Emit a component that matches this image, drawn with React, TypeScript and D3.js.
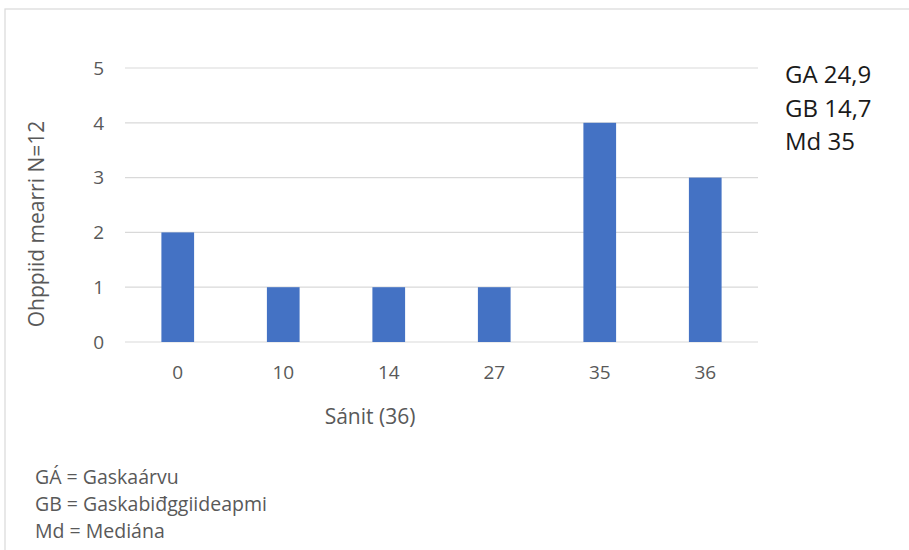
import React from "react";
import * as d3 from "d3";

const categories = ["0", "10", "14", "27", "35", "36"];
const counts = [2, 1, 1, 1, 4, 3];
const yTicks = [0, 1, 2, 3, 4, 5];
const statsLines = ["GA 24,9", "GB 14,7", "Md 35"];
const footnotes = ["GÁ = Gaskaárvu", "GB = Gaskabiđggiideapmi", "Md = Mediána"];
const xTitle = "Sánit (36)";
const yTitle = "Ohppiid mearri N=12";

const W = 909;
const H = 550;
const FONT = "'Open Sans', 'Noto Sans', sans-serif";

export default function App() {
  const plotLeft = 125;
  const plotRight = 758;
  const plotTop = 68;
  const plotBottom = 342;

  const x = d3.scaleBand<string>().domain(categories).range([plotLeft, plotRight]).paddingInner(0.69).paddingOuter(0.345);
  const y = d3.scaleLinear().domain([0, 5]).range([plotBottom, plotTop]);

  const textColor = "#595959";

  return (
    <svg width={W} height={H} style={{ position: "absolute", left: 0, top: 0, background: "#fff" }} fontFamily={FONT}>
      <rect x={0} y={0} width={W} height={H} fill="#ffffff" />
      <rect x={5} y={9} width={W + 20} height={H + 20} fill="#ffffff" stroke="#d9d9d9" strokeWidth={1.2} />
      {yTicks.map((t) => (
        <g key={t}>
          <line x1={plotLeft} x2={plotRight} y1={y(t)} y2={y(t)} stroke="#d9d9d9" strokeWidth={1.2} />
          <text x={104} y={y(t)} dy="0.36em" textAnchor="end" fontSize={19} fill={textColor}>
            {t}
          </text>
        </g>
      ))}
      {categories.map((c, i) => (
        <rect key={c} x={x(c)} y={y(counts[i])} width={x.bandwidth()} height={y(0) - y(counts[i])} fill="#4472C4" />
      ))}
      {categories.map((c) => (
        <text key={c} x={(x(c) as number) + x.bandwidth() / 2} y={379} textAnchor="middle" fontSize={19} fill={textColor}>
          {c}
        </text>
      ))}
      <text x={370} y={424} textAnchor="middle" fontSize={21} fill={textColor}>
        {xTitle}
      </text>
      <text transform="translate(44,224) rotate(-90)" textAnchor="middle" fontSize={21} fill={textColor}>
        {yTitle}
      </text>
      {statsLines.map((s, i) => (
        <text key={s} x={785} y={83 + i * 33.5} fontSize={24} fill="#1a1a1a">
          {s}
        </text>
      ))}
      {footnotes.map((s, i) => (
        <text key={s} x={35} y={484 + i * 27} fontSize={19.5} fill={textColor}>
          {s}
        </text>
      ))}
    </svg>
  );
}
